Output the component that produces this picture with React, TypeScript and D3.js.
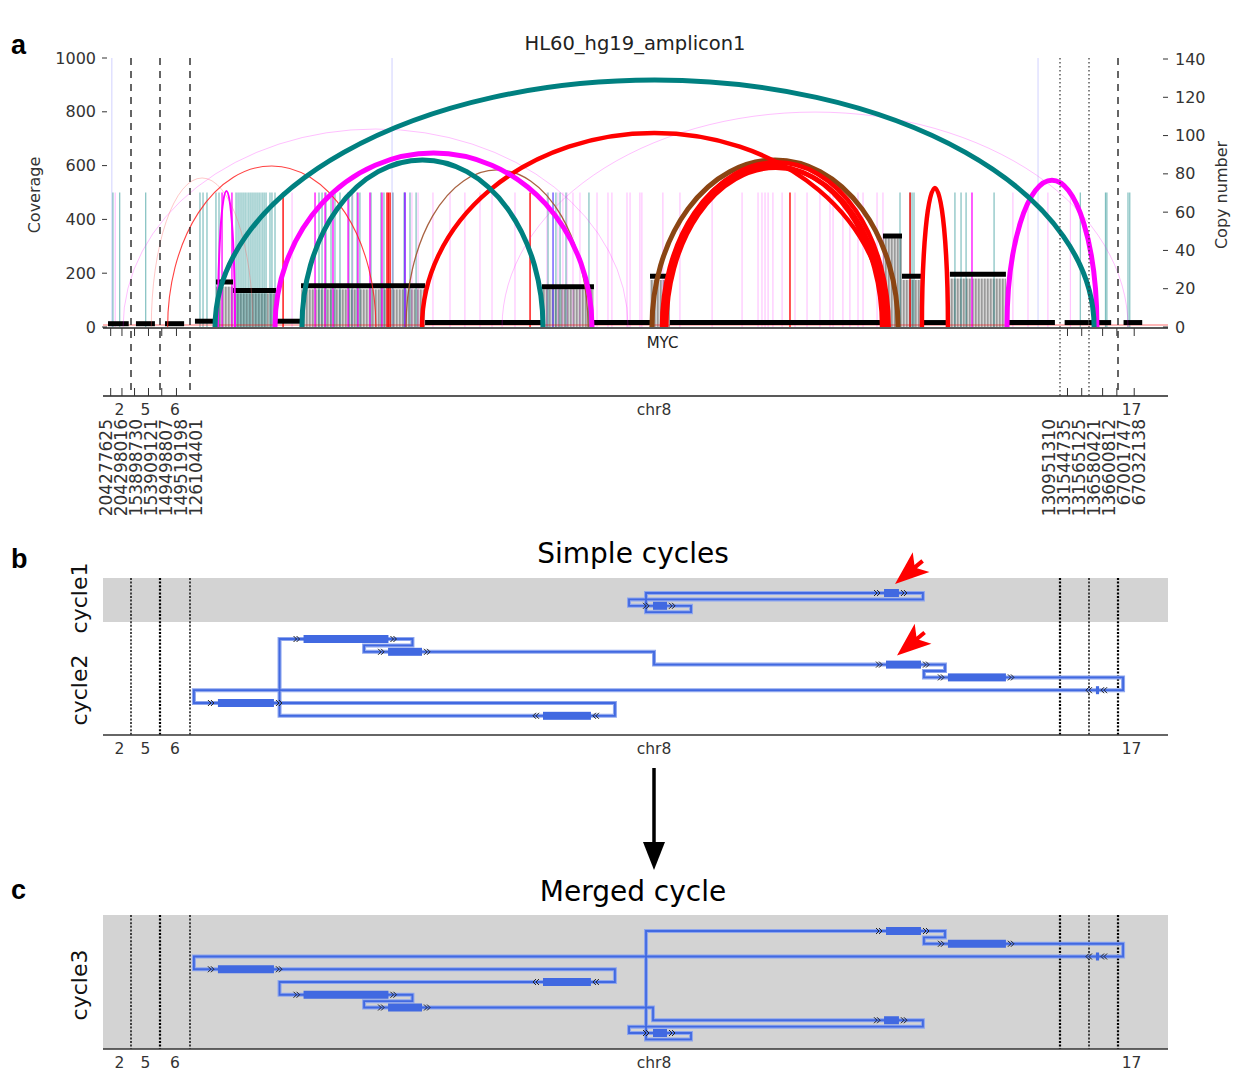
import React from 'react';
import * as d3 from 'd3';

// genomic intervals along the x axis (bp)
const intervals = [
  { chr: '2', start: 204277625, end: 204298016 },
  { chr: '5', start: 153898730, end: 153909121 },
  { chr: '6', start: 149498807, end: 149519198 },
  { chr: '8', start: 126104401, end: 130951310 },
  { chr: '8', start: 131544735, end: 131565125 },
  { chr: '8', start: 136580421, end: 136600812 },
  { chr: '17', start: 67001747, end: 67032138 },
];

const genes = [{ name: 'MYC', pos: 128.748 }];

// copy number segments [startMb, endMb, copies]
const copyNumber: [number, number, number][] = [
  [204.2776, 204.296, 1.2], [153.9005, 153.9073, 1.2], [149.5022, 149.5152, 1.2],
  [126.132, 126.244, 2.5], [126.249, 126.344, 23], [126.344, 126.584, 18.5],
  [126.589, 126.723, 2.5], [126.723, 127.414, 21], [127.414, 128.065, 1.8],
  [128.065, 128.355, 20.5], [128.355, 128.667, 1.8], [128.667, 128.778, 26],
  [128.778, 129.965, 1.8], [129.965, 130.071, 47], [130.071, 130.182, 26],
  [130.182, 130.338, 1.8], [130.338, 130.65, 27], [130.65, 130.923, 1.8],
  [131.548, 131.565, 1.8], [136.5804, 136.596, 1.8], [67.008, 67.029, 1.8],
];

// coverage blocks [startMb, endMb, coverage]
const coverage: [number, number, number][] = [
  [126.249, 126.344, 150], [126.344, 126.584, 125], [126.723, 127.414, 140],
  [128.065, 128.355, 140], [128.667, 128.778, 175], [129.965, 130.071, 330],
  [130.071, 130.182, 175], [130.338, 130.65, 180],
];

// discordant read clusters (Mb)
const tealReads = [
  204.282, 204.288, 153.904, 126.16, 126.177, 126.199, 126.249, 126.266, 126.361, 126.372,
  126.383, 126.394, 126.405, 126.416, 126.428, 126.439, 126.45, 126.461, 126.472, 126.483,
  126.494, 126.506, 126.517, 126.528, 126.55, 126.561, 126.578, 126.823, 126.84, 126.862,
  126.89, 126.912, 126.94, 126.99, 127.007, 127.035, 127.051, 127.113, 127.168, 127.185,
  127.235, 127.297, 127.33, 127.364, 128.099, 128.143, 128.166, 128.199, 128.327, 130.06,
  130.116, 130.127, 130.138, 130.366, 130.4, 130.428, 130.584, 131.559, 136.592, 136.593,
  67.013, 67.015,
];
const magentaReads = [126.283, 126.338, 126.801, 126.857, 126.901, 126.985, 127.04, 127.107, 127.174, 127.302, 130.461];
const magentaFaintReads = [
  204.284, 126.673, 127.012, 127.235, 127.341, 127.375, 127.458, 127.553, 127.636, 127.72,
  127.787, 127.915, 128.093, 128.127, 128.154, 128.182, 128.205, 128.238, 128.277, 128.372,
  128.433, 128.455, 128.539, 128.556, 128.611, 128.622, 128.739, 128.834, 129.013, 129.18,
  129.269, 129.291, 129.308, 129.325, 129.352, 129.403, 129.475, 129.542, 129.614, 129.67,
  129.687, 129.742, 129.781, 129.826, 129.854, 129.932, 129.965, 130.689, 130.773, 130.884,
  131.552,
];
const redReads = [126.623, 127.202, 127.21, 127.219, 127.999, 129.447, 130.116];
const blueReads = [127.302, 128.127];
const faintFullLines = [204.281, 127.23, 130.829];

// arcs [endA Mb, endB Mb, peak coverage]
const tealArcs: [number, number, number][] = [[126.244, 136.584, 918], [126.728, 128.071, 621]];
const magentaArcs: [number, number, number][] = [[126.578, 128.344, 647], [130.656, 136.586, 546]];
const magentaNarrowArcs: [number, number, number][] = [[126.26, 126.355, 506]];
const redArcs: [number, number, number][] = [
  [127.397, 129.985, 721], [128.734, 129.96, 600], [128.758, 129.978, 592],
  [128.745, 129.997, 612], [130.182, 130.327, 517],
];
const brownArcs: [number, number, number][] = [[128.678, 130.049, 621]];
const thinRedArcs: [number, number, number][] = [[149.504, 127.14, 599]];
const thinSalmonArcs: [number, number, number][] = [[153.906, 126.455, 554]];
const thinPinkArcs: [number, number, number][] = [[204.291, 128.545, 736], [127.843, 67.013, 799]];
const thinBrownArcs: [number, number, number][] = [[127.308, 128.322, 584]];

const covTicks = [0, 200, 400, 600, 800, 1000];
const cnTicks = [0, 20, 40, 60, 80, 100, 120, 140];

// amplicon segments used in cycles (Mb)
const cycleSegs: Record<string, [number, number]> = {
  s1: [126.737, 127.21], s2: [127.208, 127.397], s3: [126.26, 126.572], s4: [128.071, 128.338],
  sA: [128.684, 128.762], sB: [129.971, 130.054], sC: [129.982, 130.177], sD: [130.327, 130.65],
  sE: [136.5853, 136.5875],
};
type Visit = { seg: string; dir: number; row: number };
const cycle1: Visit[] = [{ seg: 'sA', dir: 1, row: 1 }, { seg: 'sB', dir: 1, row: 0 }];
const cycle2: Visit[] = [
  { seg: 's3', dir: 1, row: 5 }, { seg: 's4', dir: -1, row: 6 }, { seg: 's1', dir: 1, row: 0 },
  { seg: 's2', dir: 1, row: 1 }, { seg: 'sC', dir: 1, row: 2 }, { seg: 'sD', dir: 1, row: 3 },
  { seg: 'sE', dir: -1, row: 4 },
];
const cycle3: Visit[] = [
  { seg: 'sC', dir: 1, row: 0 }, { seg: 'sD', dir: 1, row: 1 }, { seg: 'sE', dir: -1, row: 2 },
  { seg: 's3', dir: 1, row: 3 }, { seg: 's4', dir: -1, row: 4 }, { seg: 's1', dir: 1, row: 5 },
  { seg: 's2', dir: 1, row: 6 }, { seg: 'sB', dir: 1, row: 7 }, { seg: 'sA', dir: 1, row: 8 },
];
const highlighted = [{ cycle: 1, seg: 'sB' }, { cycle: 2, seg: 'sC' }];

const FONT = '"DejaVu Sans", sans-serif';
const intervalPx: [number, number][] = [[108, 131], [131, 160], [160, 190], [190, 1060], [1060, 1089], [1089, 1118], [1118, 1145]];
const X0 = 103, X1 = 1168;
const PAD = 24;

export default function App() {
  const segScales = intervals.map((iv, i) =>
    d3.scaleLinear().domain([iv.start / 1e6, iv.end / 1e6]).range(intervalPx[i]));
  const xPos = (mb: number) => {
    let best = 0, bd = Infinity;
    intervals.forEach((iv, i) => {
      const s = iv.start / 1e6, e = iv.end / 1e6;
      const d = mb < s ? s - mb : mb > e ? mb - e : 0;
      if (d < bd) { bd = d; best = i; }
    });
    return segScales[best](mb);
  };
  const yCov = d3.scaleLinear().domain([0, 1000]).range([327, 58]);
  const yCn = d3.scaleLinear().domain([0, 140]).range([327, 59]);
  const base = yCov(0);

  const arcPath = ([a, b, h]: [number, number, number]) => {
    let x1 = xPos(a), x2 = xPos(b);
    if (x1 > x2) [x1, x2] = [x2, x1];
    const rx = (x2 - x1) / 2, ry = base - yCov(h);
    return `M${x1},${base} A${rx},${ry} 0 0 1 ${x2},${base}`;
  };

  const boundaries = intervals.slice(1).map((iv, i) => ({
    x: intervalPx[i + 1][0],
    chrChange: iv.chr !== intervals[i].chr,
  }));

  // chromosome labels (consecutive intervals of one chromosome share a label)
  const chrLabels: { name: string; x0: number; x1: number }[] = [];
  intervals.forEach((iv, i) => {
    const name = iv.chr === '8' ? 'chr8' : iv.chr;
    const last = chrLabels[chrLabels.length - 1];
    if (last && last.name === name) last.x1 = intervalPx[i][1];
    else chrLabels.push({ name, x0: intervalPx[i][0], x1: intervalPx[i][1] });
  });

  const smallTicks: number[] = [];
  segScales.forEach((s, i) => {
    if (intervalPx[i][1] - intervalPx[i][0] < 100) s.ticks(2).forEach((t) => smallTicks.push(s(t)));
  });

  const leftBounds = [
    intervals[0].start, intervals[0].end, intervals[1].start, intervals[1].end,
    intervals[2].start, intervals[2].end, intervals[3].start,
  ];
  const rightBounds = [
    intervals[3].end, intervals[4].start, intervals[4].end, intervals[5].start,
    intervals[5].end, intervals[6].start, intervals[6].end,
  ];

  const readLines = (list: number[], color: string, op: number, w: number, top: number) =>
    list.map((m, i) => (
      <line key={color + i} x1={xPos(m)} x2={xPos(m)} y1={base} y2={yCov(top)}
        stroke={color} strokeOpacity={op} strokeWidth={w} />
    ));

  const arcs = (list: [number, number, number][], color: string, w: number, op = 1) =>
    list.map((a, i) => (
      <path key={color + w + i} d={arcPath(a)} fill="none" stroke={color} strokeWidth={w} strokeOpacity={op} />
    ));

  // ---------- cycle drawing ----------
  const drawCycle = (visits: Visit[], rows: d3.ScaleLinear<number, number>, key: string, cycleNo: number) => {
    const step = rows(1) - rows(0);
    const segX = (s: string) => [xPos(cycleSegs[s][0]), xPos(cycleSegs[s][1])];
    const pts: [number, number][] = [];
    visits.forEach((v, i) => {
      const w = visits[(i + 1) % visits.length];
      const [a0, a1] = segX(v.seg);
      const [b0, b1] = segX(w.seg);
      const yS = rows(v.row), yT = rows(w.row);
      const entryS = v.dir > 0 ? a0 - PAD : a1 + PAD;
      const exitS = v.dir > 0 ? a1 + PAD : a0 - PAD;
      const entryT = w.dir > 0 ? b0 - PAD : b1 + PAD;
      pts.push([entryS, yS], [exitS, yS]);
      if (v.dir > 0 && w.dir > 0) {
        if (w.row < v.row) {
          const yh = yS + step / 2, vx = a0 - 7;
          pts.push([exitS, yh], [vx, yh], [vx, yT]);
        } else if (entryT < exitS) {
          const yh = yS + step / 2;
          pts.push([exitS, yh], [entryT, yh], [entryT, yT]);
        } else {
          const mx = (exitS + entryT) / 2;
          pts.push([mx, yS], [mx, yT]);
        }
      } else if (v.dir > 0 && w.dir < 0) {
        const vx = Math.max(exitS, entryT);
        pts.push([vx, yS], [vx, yT]);
      } else {
        const vx = Math.min(exitS, entryT);
        pts.push([vx, yS], [vx, yT]);
      }
    });
    const d = d3.line()(pts) + 'Z';
    return (
      <g key={key}>
        <path d={d} fill="none" stroke="#8ea6ee" strokeWidth={4} />
        <path d={d} fill="none" stroke="#4169e1" strokeWidth={1.8} />
        {visits.map((v, i) => {
          const [a0, a1] = segX(v.seg);
          const y = rows(v.row);
          const chev = (x: number) => v.dir > 0
            ? `M${x},${y - 3} l3,3 l-3,3 M${x + 3},${y - 3} l3,3 l-3,3`
            : `M${x + 3},${y - 3} l-3,3 l3,3 M${x + 6},${y - 3} l-3,3 l3,3`;
          return (
            <g key={i}>
              <rect x={a0} y={y - 4} width={Math.max(a1 - a0, 3)} height={8} fill="#4169e1" />
              <path d={chev(a0 - 10) + chev(a1 + 2)} stroke="#222" strokeWidth={1} fill="none" />
            </g>
          );
        })}
        {highlighted.filter((h) => h.cycle === cycleNo).map((h, i) => {
          const v = visits.find((q) => q.seg === h.seg)!;
          const tx = xPos(cycleSegs[h.seg][0]) + 11, ty = rows(v.row) - 9;
          return (
            <path key={'ar' + i} transform={`translate(${tx},${ty}) rotate(-40)`}
              d="M0,0 L34,-13 L27,-2 L36,-2 L36,2 L27,2 L34,13 Z" fill="#ff0000" />
          );
        })}
      </g>
    );
  };

  const rows1 = d3.scaleLinear().domain([0, 1]).range([593, 605.8]);
  const rows2 = d3.scaleLinear().domain([0, 1]).range([639, 651.8]);
  const rows3 = d3.scaleLinear().domain([0, 1]).range([931, 943.75]);

  const boundaryLines = (y1: number, y2: number, k: string) =>
    boundaries.map((b, i) => (
      <line key={k + i} x1={b.x} x2={b.x} y1={y1} y2={y2} stroke="#000"
        strokeWidth={i === 1 || i === 3 || i === 5 ? 2.2 : 1.4} strokeDasharray="2,1.6" />
    ));

  const cycleAxis = (y: number, k: string) => (
    <g key={k}>
      <line x1={X0} x2={X1} y1={y} y2={y} stroke="#333" strokeWidth={1.5} />
      {chrLabels.map((l) => (
        <text key={l.name} x={(l.x0 + l.x1) / 2} y={y + 19} textAnchor="middle" fontSize={15.5} fill="#333" fontFamily={FONT}>{l.name}</text>
      ))}
    </g>
  );

  return (
    <svg width={1248} height={1072} style={{ position: 'absolute', left: 0, top: 0, background: '#fff' }}>
      <defs>
        <pattern id="covpat" width={3} height={10} patternUnits="userSpaceOnUse">
          <rect width={3} height={10} fill="#d4d4d4" />
          <rect width={1.6} height={10} fill="#9a9a9a" />
        </pattern>
      </defs>
      <rect width={1248} height={1072} fill="#fff" />

      {/* ---------------- panel a ---------------- */}
      <text x={11} y={54} fontSize={27} fontWeight="bold" fontFamily="Liberation Sans, Arial" fill="#000">a</text>
      <text x={635} y={50} textAnchor="middle" fontSize={19.5} fill="#222" fontFamily={FONT}>HL60_hg19_amplicon1</text>

      {faintFullLines.map((m, i) => (
        <line key={'ff' + i} x1={xPos(m)} x2={xPos(m)} y1={base} y2={yCov(1000)} stroke="#8080ff" strokeOpacity={0.3} strokeWidth={1.2} />
      ))}

      {coverage.map(([s, e, c], i) => (
        <rect key={'cov' + i} x={xPos(s)} y={yCov(c)} width={xPos(e) - xPos(s)} height={base - yCov(c)} fill="url(#covpat)" />
      ))}

      {readLines(magentaFaintReads, '#ff00ff', 0.28, 1, 500)}
      {readLines(tealReads, '#008080', 0.5, 1.2, 500)}
      {readLines(magentaReads, '#ff00ff', 0.85, 1.5, 500)}
      {readLines(redReads, '#ff0000', 0.9, 1.5, 500)}
      {readLines(blueReads, '#4040ff', 0.7, 1.5, 500)}

      <line x1={X0} x2={X1} y1={base - 2} y2={base - 2} stroke="#ff0000" strokeOpacity={0.7} strokeWidth={0.8} />

      {copyNumber.map(([s, e, c], i) => (
        <line key={'cn' + i} x1={xPos(s)} x2={xPos(e)} y1={yCn(c) - 1} y2={yCn(c) - 1} stroke="#000" strokeWidth={5} />
      ))}

      {arcs(thinPinkArcs, '#ff00ff', 1, 0.25)}
      {arcs(thinSalmonArcs, '#ff6060', 1, 0.35)}
      {arcs(thinRedArcs, '#ff2020', 1.1, 0.85)}
      {arcs(thinBrownArcs, '#a0522d', 1.3, 0.9)}
      {arcs(magentaNarrowArcs, '#ff00ff', 2)}
      {arcs(brownArcs, '#8b4513', 5)}
      {arcs(redArcs, '#ff0000', 4.5)}
      {arcs(magentaArcs, '#ff00ff', 5)}
      {arcs(tealArcs, '#008080', 5)}

      {/* left coverage axis */}
      {covTicks.map((t) => (
        <g key={'ct' + t}>
          <line x1={102} x2={107} y1={yCov(t)} y2={yCov(t)} stroke="#333" />
          <text x={96} y={yCov(t) + 5.5} textAnchor="end" fontSize={16} fill="#333" fontFamily={FONT}>{t}</text>
        </g>
      ))}
      <text transform="translate(40,195) rotate(-90)" textAnchor="middle" fontSize={16} fill="#333" fontFamily={FONT}>Coverage</text>
      {/* right copy-number axis */}
      {cnTicks.map((t) => (
        <g key={'nt' + t}>
          <line x1={1163} x2={1168} y1={yCn(t)} y2={yCn(t)} stroke="#333" />
          <text x={1175} y={yCn(t) + 5.5} fontSize={16} fill="#333" fontFamily={FONT}>{t}</text>
        </g>
      ))}
      <text transform="translate(1227,195) rotate(-90)" textAnchor="middle" fontSize={16} fill="#333" fontFamily={FONT}>Copy number</text>

      {/* interval boundaries */}
      {boundaries.map((b, i) => (
        <line key={'bd' + i} x1={b.x} x2={b.x} y1={58} y2={396} stroke="#333"
          strokeWidth={b.chrChange ? 1.5 : 1.2} strokeDasharray={b.chrChange ? '7,6' : '1.5,2.5'} />
      ))}

      {/* x axes */}
      <line x1={X0} x2={X1} y1={base + 1} y2={base + 1} stroke="#222" strokeWidth={1.6} />
      <line x1={X0} x2={X1} y1={396} y2={396} stroke="#222" strokeWidth={1.6} />
      {smallTicks.map((x, i) => (
        <g key={'tk' + i}>
          <line x1={x} x2={x} y1={base + 1} y2={base + 9} stroke="#333" />
          <line x1={x} x2={x} y1={388} y2={396} stroke="#333" />
        </g>
      ))}
      {genes.map((g) => (
        <text key={g.name} x={xPos(g.pos) - 2} y={348} textAnchor="middle" fontSize={15} fill="#222" fontFamily={FONT}>{g.name}</text>
      ))}
      {chrLabels.map((l) => (
        <text key={'cl' + l.name} x={(l.x0 + l.x1) / 2} y={415} textAnchor="middle" fontSize={15.5} fill="#333" fontFamily={FONT}>{l.name}</text>
      ))}
      {leftBounds.map((b, i) => (
        <text key={'lb' + i} transform={`translate(${112 + i * 15},419) rotate(-90)`} textAnchor="end"
          fontSize={17} fill="#333" fontFamily={FONT}>{b}</text>
      ))}
      {rightBounds.map((b, i) => (
        <text key={'rb' + i} transform={`translate(${1055 + i * 15},419) rotate(-90)`} textAnchor="end"
          fontSize={17} fill="#333" fontFamily={FONT}>{b}</text>
      ))}

      {/* ---------------- panel b ---------------- */}
      <text x={11} y={568} fontSize={27} fontWeight="bold" fontFamily="Liberation Sans, Arial" fill="#000">b</text>
      <text x={633} y={563} textAnchor="middle" fontSize={28} fill="#000" fontFamily={FONT}>Simple cycles</text>
      <rect x={X0} y={578} width={X1 - X0} height={44} fill="#d3d3d3" />
      {boundaryLines(578, 735, 'pb')}
      <text transform="translate(87,598) rotate(-90)" textAnchor="middle" fontSize={22} fill="#111" fontFamily={FONT}>cycle1</text>
      <text transform="translate(87,690) rotate(-90)" textAnchor="middle" fontSize={22} fill="#111" fontFamily={FONT}>cycle2</text>
      {drawCycle(cycle1, rows1, 'c1', 1)}
      {drawCycle(cycle2, rows2, 'c2', 2)}
      {cycleAxis(735, 'axb')}

      {/* arrow between b and c */}
      <line x1={654} x2={654} y1={768} y2={848} stroke="#000" strokeWidth={3.5} />
      <path d="M643,842 L665,842 L654,870 Z" fill="#000" />

      {/* ---------------- panel c ---------------- */}
      <text x={11} y={899} fontSize={27} fontWeight="bold" fontFamily="Liberation Sans, Arial" fill="#000">c</text>
      <text x={633} y={901} textAnchor="middle" fontSize={28} fill="#000" fontFamily={FONT}>Merged cycle</text>
      <rect x={X0} y={915} width={X1 - X0} height={134} fill="#d3d3d3" />
      {boundaryLines(915, 1049, 'pc')}
      <text transform="translate(87,985) rotate(-90)" textAnchor="middle" fontSize={22} fill="#111" fontFamily={FONT}>cycle3</text>
      {drawCycle(cycle3, rows3, 'c3', 3)}
      {cycleAxis(1049, 'axc')}
    </svg>
  );
}
